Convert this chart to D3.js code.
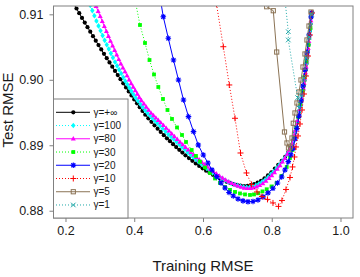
<!DOCTYPE html>
<html><head><meta charset="utf-8">
<script src="https://cdn.jsdelivr.net/npm/d3@7"></script>
<style>body{margin:0;background:#fff}svg{display:block;font-family:"Liberation Sans",Arial,Helvetica,sans-serif}</style>
</head><body><svg id="c" width="360" height="277"></svg>
<script>
// ---- data: [training RMSE, test RMSE] ----
const gInf = [[0.200,0.91373],[0.208,0.91302],[0.216,0.91230],[0.224,0.91159],[0.232,0.91089],[0.240,0.91017],[0.248,0.90945],[0.256,0.90874],[0.264,0.90804],[0.272,0.90735],[0.280,0.90666],[0.288,0.90597],[0.296,0.90530],[0.304,0.90463],[0.312,0.90396],[0.320,0.90330],[0.328,0.90265],[0.336,0.90200],[0.344,0.90135],[0.352,0.90072],[0.360,0.90009],[0.368,0.89946],[0.376,0.89883],[0.384,0.89822],[0.392,0.89761],[0.400,0.89700],[0.408,0.89641],[0.416,0.89582],[0.424,0.89523],[0.432,0.89466],[0.441,0.89412],[0.450,0.89358],[0.459,0.89304],[0.468,0.89254],[0.477,0.89204],[0.486,0.89154],[0.495,0.89106],[0.504,0.89062],[0.513,0.89017],[0.522,0.88973],[0.531,0.88931],[0.540,0.88889],[0.549,0.88847],[0.559,0.88805],[0.569,0.88763],[0.579,0.88722],[0.589,0.88685],[0.599,0.88648],[0.609,0.88612],[0.619,0.88580],[0.629,0.88548],[0.639,0.88518],[0.649,0.88492],[0.659,0.88466],[0.669,0.88442],[0.679,0.88424],[0.689,0.88406],[0.699,0.88394],[0.709,0.88384],[0.719,0.88378],[0.729,0.88380],[0.739,0.88390],[0.749,0.88406],[0.759,0.88428],[0.769,0.88458],[0.779,0.88496],[0.789,0.88540],[0.799,0.88588],[0.809,0.88643],[0.819,0.88702],[0.829,0.88761],[0.839,0.88824],[0.848,0.88890],[0.853,0.88928],[0.856,0.88966],[0.859,0.89005],[0.862,0.89068],[0.865,0.89132],[0.868,0.89202],[0.871,0.89273],[0.874,0.89352],[0.877,0.89433],[0.880,0.89511],[0.883,0.89599],[0.886,0.89682],[0.889,0.89771],[0.891,0.89840],[0.893,0.89909],[0.895,0.89987],[0.897,0.90071],[0.899,0.90155],[0.901,0.90245],[0.903,0.90338],[0.905,0.90431],[0.907,0.90534],[0.909,0.90639],[0.911,0.90744],[0.913,0.90851],[0.915,0.90959],[0.916,0.91013]];
const g100 = [[0.266,0.91224],[0.272,0.91137],[0.278,0.91057],[0.284,0.90977],[0.290,0.90898],[0.296,0.90823],[0.302,0.90749],[0.308,0.90675],[0.314,0.90602],[0.320,0.90536],[0.326,0.90470],[0.332,0.90404],[0.338,0.90338],[0.344,0.90272],[0.350,0.90213],[0.356,0.90155],[0.362,0.90096],[0.368,0.90037],[0.374,0.89979],[0.380,0.89928],[0.386,0.89877],[0.392,0.89826],[0.398,0.89775],[0.404,0.89724],[0.411,0.89675],[0.418,0.89627],[0.425,0.89580],[0.432,0.89532],[0.439,0.89489],[0.446,0.89450],[0.453,0.89412],[0.460,0.89374],[0.467,0.89336],[0.475,0.89294],[0.483,0.89253],[0.491,0.89211],[0.499,0.89168],[0.507,0.89129],[0.515,0.89091],[0.523,0.89052],[0.531,0.89013],[0.539,0.88974],[0.547,0.88935],[0.555,0.88895],[0.563,0.88857],[0.571,0.88821],[0.579,0.88785],[0.587,0.88749],[0.595,0.88714],[0.603,0.88681],[0.611,0.88647],[0.619,0.88614],[0.628,0.88580],[0.637,0.88549],[0.646,0.88518],[0.655,0.88491],[0.664,0.88465],[0.673,0.88439],[0.682,0.88416],[0.691,0.88400],[0.700,0.88385],[0.709,0.88372],[0.718,0.88363],[0.727,0.88358],[0.736,0.88359],[0.745,0.88368],[0.754,0.88387],[0.763,0.88411],[0.772,0.88440],[0.781,0.88474],[0.790,0.88515],[0.798,0.88560],[0.806,0.88600],[0.814,0.88650],[0.822,0.88697],[0.830,0.88752],[0.837,0.88802],[0.844,0.88860],[0.850,0.88910],[0.855,0.88958],[0.859,0.89008],[0.862,0.89070],[0.865,0.89135],[0.868,0.89205],[0.871,0.89276],[0.874,0.89355],[0.877,0.89436],[0.880,0.89515],[0.883,0.89600],[0.886,0.89684],[0.889,0.89770],[0.891,0.89838],[0.893,0.89907],[0.895,0.89985],[0.897,0.90070],[0.899,0.90156],[0.901,0.90245],[0.903,0.90336],[0.905,0.90430],[0.907,0.90533],[0.909,0.90638],[0.911,0.90745],[0.913,0.90852],[0.915,0.90958],[0.916,0.91014]];
const g80 = [[0.283,0.91203],[0.289,0.91123],[0.295,0.91046],[0.301,0.90969],[0.307,0.90892],[0.313,0.90816],[0.319,0.90740],[0.325,0.90665],[0.331,0.90591],[0.337,0.90521],[0.343,0.90451],[0.349,0.90382],[0.355,0.90312],[0.361,0.90246],[0.367,0.90185],[0.373,0.90124],[0.379,0.90063],[0.385,0.90001],[0.391,0.89944],[0.397,0.89890],[0.403,0.89837],[0.409,0.89784],[0.415,0.89730],[0.421,0.89684],[0.428,0.89635],[0.435,0.89585],[0.442,0.89536],[0.449,0.89491],[0.456,0.89455],[0.463,0.89419],[0.470,0.89382],[0.477,0.89345],[0.485,0.89303],[0.493,0.89261],[0.501,0.89219],[0.509,0.89176],[0.517,0.89134],[0.525,0.89092],[0.533,0.89050],[0.541,0.89010],[0.549,0.88970],[0.557,0.88930],[0.565,0.88891],[0.573,0.88853],[0.581,0.88816],[0.589,0.88778],[0.597,0.88741],[0.605,0.88705],[0.613,0.88670],[0.621,0.88635],[0.630,0.88600],[0.639,0.88565],[0.648,0.88530],[0.657,0.88500],[0.666,0.88470],[0.675,0.88443],[0.684,0.88418],[0.693,0.88396],[0.702,0.88376],[0.711,0.88360],[0.720,0.88347],[0.729,0.88341],[0.738,0.88343],[0.747,0.88352],[0.756,0.88367],[0.765,0.88387],[0.774,0.88415],[0.783,0.88453],[0.792,0.88495],[0.800,0.88537],[0.808,0.88583],[0.816,0.88635],[0.824,0.88692],[0.831,0.88746],[0.838,0.88802],[0.845,0.88865],[0.851,0.88922],[0.856,0.88970],[0.860,0.89025],[0.863,0.89090],[0.866,0.89158],[0.869,0.89228],[0.872,0.89302],[0.875,0.89380],[0.878,0.89460],[0.881,0.89545],[0.884,0.89627],[0.887,0.89712],[0.890,0.89804],[0.892,0.89872],[0.894,0.89945],[0.896,0.90027],[0.898,0.90112],[0.900,0.90198],[0.902,0.90290],[0.904,0.90384],[0.906,0.90482],[0.908,0.90586],[0.910,0.90690],[0.912,0.90797],[0.914,0.90904],[0.916,0.91012]];
const g30 = [[0.4036,0.91188],[0.4167,0.90837],[0.4313,0.90562],[0.4444,0.90302],[0.4575,0.90081],[0.4700,0.89890],[0.4836,0.89707],[0.4967,0.89539],[0.5098,0.89402],[0.5244,0.89272],[0.5389,0.89157],[0.5506,0.89050],[0.5671,0.88928],[0.5796,0.88837],[0.5913,0.88750],[0.6058,0.88661],[0.6204,0.88577],[0.6349,0.88493],[0.6495,0.88424],[0.6640,0.88363],[0.6786,0.88318],[0.6931,0.88287],[0.7076,0.88264],[0.7222,0.88249],[0.7367,0.88241],[0.7484,0.88249],[0.7609,0.88267],[0.7731,0.88295],[0.7853,0.88328],[0.7993,0.88371],[0.8144,0.88424],[0.8284,0.88531],[0.8435,0.88669],[0.8531,0.88806],[0.8604,0.88928],[0.8662,0.89111],[0.8720,0.89264],[0.8778,0.89432],[0.8836,0.89631],[0.8895,0.89829],[0.8953,0.90043],[0.9011,0.90287],[0.9069,0.90531],[0.9127,0.90791],[0.9162,0.91020]];
const g20 = [[0.4735,0.91310],[0.4845,0.90963],[0.4991,0.90634],[0.5142,0.90302],[0.5287,0.89997],[0.5433,0.89692],[0.5578,0.89437],[0.5724,0.89208],[0.5863,0.89004],[0.6009,0.88852],[0.6145,0.88730],[0.6262,0.88623],[0.6399,0.88521],[0.6524,0.88424],[0.6640,0.88348],[0.6756,0.88279],[0.6881,0.88226],[0.7018,0.88180],[0.7164,0.88150],[0.7309,0.88137],[0.7455,0.88142],[0.7600,0.88165],[0.7745,0.88211],[0.7891,0.88272],[0.8036,0.88343],[0.8167,0.88424],[0.8289,0.88516],[0.8385,0.88623],[0.8482,0.88750],[0.8560,0.88852],[0.8627,0.88954],[0.8676,0.89096],[0.8734,0.89257],[0.8793,0.89447],[0.8851,0.89676],[0.8909,0.89905],[0.8967,0.90150],[0.9025,0.90409],[0.9084,0.90684],[0.9142,0.90959],[0.9162,0.91024]];
const g10 = [[0.6393,0.91157],[0.6591,0.90505],[0.6765,0.89921],[0.6931,0.89412],[0.7091,0.88882],[0.7265,0.88577],[0.7411,0.88402],[0.7571,0.88287],[0.7716,0.88218],[0.7876,0.88173],[0.8036,0.88119],[0.8196,0.88066],[0.8298,0.88157],[0.8415,0.88325],[0.8531,0.88508],[0.8604,0.88669],[0.8662,0.88821],[0.8705,0.88974],[0.8764,0.89142],[0.8822,0.89325],[0.8880,0.89539],[0.8938,0.89783],[0.8996,0.90058],[0.9055,0.90363],[0.9113,0.90684],[0.9171,0.91020]];
const g5 = [[0.7853,0.91116],[0.8045,0.91055],[0.8144,0.90424],[0.8371,0.89203],[0.8444,0.89035],[0.8487,0.88959],[0.8545,0.88974],[0.8589,0.89111],[0.8627,0.89336],[0.8676,0.89493],[0.8734,0.89646],[0.8793,0.89814],[0.8851,0.89997],[0.8909,0.90195],[0.8967,0.90394],[0.9025,0.90608],[0.9084,0.90821],[0.9142,0.91035]];
const g1 = [[0.8371,0.91295],[0.8482,0.90734],[0.8482,0.90608],[0.8755,0.89727],[0.8801,0.89565],[0.8865,0.89753],[0.8938,0.90027],[0.9011,0.90333],[0.9084,0.90653],[0.9156,0.91005]];

const seriesData = [gInf, g100, g80, g30, g20, g10, g5, g1];
const seriesNames = ["γ=+∞","γ=100","γ=80","γ=30","γ=20","γ=10","γ=5","γ=1"];
const seriesColors = ["#000000","#00FFFF","#FF00FF","#00FF00","#0000FF","#FF0000","#8B7355","#20A8A8"];
const seriesDash = [null,"1,2",null,"1,2",null,"1,2",null,"1,2"];
const seriesMarkers = ["circle","diamond","triangle","square","star","plus","osquare","cross"];
const xTicks = [0.2,0.4,0.6,0.8,1.0];
const yTicks = [0.88,0.89,0.90,0.91];

// ---- drawing ----
const svg = d3.select("#c");
const P = {l:53.5, r:353, t:6, b:218};
const x = d3.scaleLinear().domain([0.1651,1.0364]).range([P.l,P.r]);
const y = d3.scaleLinear().domain([0.87889,0.91127]).range([P.b,P.t]);
const axisCol = "#808080";

svg.append("defs").append("clipPath").attr("id","clip")
  .append("rect").attr("x",P.l).attr("y",P.t).attr("width",P.r-P.l).attr("height",P.b-P.t);

function marker(g, type, cx, cy, col){
  switch(type){
    case "circle": g.append("circle").attr("cx",cx).attr("cy",cy).attr("r",2.1).attr("fill",col); break;
    case "diamond": g.append("path").attr("d",`M${cx},${cy-2.8}L${cx+2.2},${cy}L${cx},${cy+2.8}L${cx-2.2},${cy}Z`).attr("fill",col); break;
    case "triangle": g.append("path").attr("d",`M${cx},${cy-2.7}L${cx+2.5},${cy+1.7}L${cx-2.5},${cy+1.7}Z`).attr("fill",col); break;
    case "square": g.append("rect").attr("x",cx-1.9).attr("y",cy-1.9).attr("width",3.8).attr("height",3.8).attr("fill",col); break;
    case "osquare": g.append("rect").attr("x",cx-2.1).attr("y",cy-2.1).attr("width",4.2).attr("height",4.2).attr("fill","none").attr("stroke",col).attr("stroke-width",1); break;
    case "plus": g.append("path").attr("d",`M${cx-3},${cy}H${cx+3}M${cx},${cy-3}V${cy+3}`).attr("stroke",col).attr("stroke-width",1).attr("fill","none"); break;
    case "cross": g.append("path").attr("d",`M${cx-2.3},${cy-2.3}L${cx+2.3},${cy+2.3}M${cx-2.3},${cy+2.3}L${cx+2.3},${cy-2.3}`).attr("stroke",col).attr("stroke-width",1).attr("fill","none"); break;
    case "star": g.append("path").attr("d",`M${cx-2.8},${cy}H${cx+2.8}M${cx},${cy-2.8}V${cy+2.8}M${cx-2},${cy-2}L${cx+2},${cy+2}M${cx-2},${cy+2}L${cx+2},${cy-2}`).attr("stroke",col).attr("stroke-width",1.1).attr("fill","none"); break;
  }
}

const plotG = svg.append("g").attr("clip-path","url(#clip)");
const line = d3.line().x(d=>x(d[0])).y(d=>y(d[1]));
seriesData.forEach((data,i)=>{
  const g = plotG.append("g");
  g.append("path").attr("d",line(data)).attr("fill","none")
    .attr("stroke",seriesColors[i]).attr("stroke-width",1)
    .attr("stroke-dasharray",seriesDash[i]);
  data.forEach(d=>marker(g, seriesMarkers[i], x(d[0]), y(d[1]), seriesColors[i]));
});

// box
svg.append("rect").attr("x",P.l).attr("y",P.t).attr("width",P.r-P.l).attr("height",P.b-P.t)
  .attr("fill","none").attr("stroke",axisCol).attr("stroke-width",1);

// axes
const xa = svg.append("g").attr("transform",`translate(0,${P.b})`)
  .call(d3.axisBottom(x).tickValues(xTicks).tickFormat(d3.format(".1f")).tickSize(4).tickPadding(4));
const ya = svg.append("g").attr("transform",`translate(${P.l},0)`)
  .call(d3.axisLeft(y).tickValues(yTicks).tickFormat(d3.format(".2f")).tickSize(4).tickPadding(6));
[xa,ya].forEach(a=>{
  a.select(".domain").remove();
  a.selectAll(".tick line").attr("stroke",axisCol);
  a.selectAll(".tick text").attr("fill","#1a1a1a").style("font-size","12.5px").style("font-family","'Liberation Sans',Arial,sans-serif");
});

// titles
svg.append("text").attr("x",203).attr("y",271).attr("text-anchor","middle")
  .style("font-size","15px").attr("fill","#1a1a1a").text("Training RMSE");
svg.append("text").attr("transform","translate(13,110) rotate(-90)").attr("text-anchor","middle")
  .style("font-size","15px").attr("fill","#1a1a1a").text("Test RMSE");

// legend
const L = {x:P.l, y:99, w:74.5, h:P.b-99};
const lg = svg.append("g");
lg.append("rect").attr("x",L.x).attr("y",L.y).attr("width",L.w).attr("height",L.h)
  .attr("fill","#fff").attr("stroke",axisCol).attr("stroke-width",1);
seriesNames.forEach((nm,i)=>{
  const yy = 112.3 + i*13.24;
  lg.append("line").attr("x1",56).attr("x2",90).attr("y1",yy).attr("y2",yy)
    .attr("stroke",seriesColors[i]).attr("stroke-width",1).attr("stroke-dasharray",seriesDash[i]);
  marker(lg, seriesMarkers[i], 73.3, yy, seriesColors[i]);
  lg.append("text").attr("x",93.5).attr("y",yy+3.5).style("font-size","10px")
    .attr("fill","#1a1a1a").text(nm);
});
</script></body></html>
